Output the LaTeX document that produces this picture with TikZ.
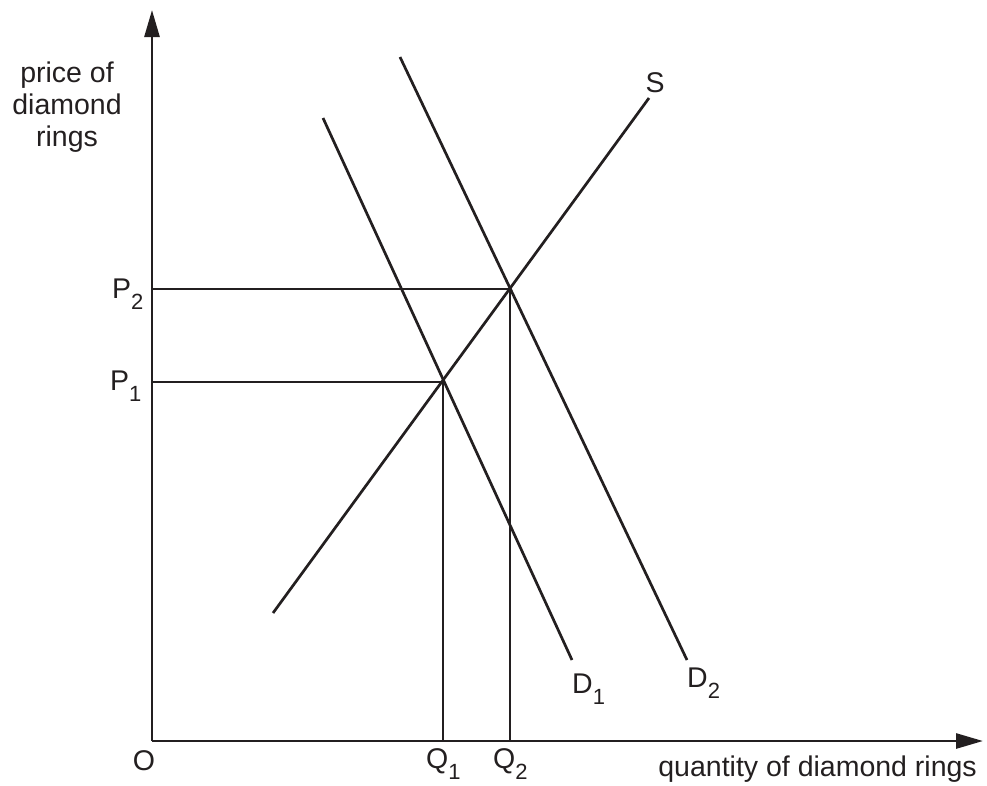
\documentclass[tikz,border=0pt]{standalone}
\usepackage{fontspec}
\setmainfont{Liberation Sans}
\usetikzlibrary{arrows.meta}
\definecolor{ink}{HTML}{231F20}
\newcommand\lowsub[1]{\raisebox{-11pt}{\fontsize{22}{22}\selectfont #1}}
\begin{document}
\begin{tikzpicture}[x=1pt,y=-1pt,
  axis/.style={draw=ink,line width=2.7pt,-{Triangle[length=27pt,width=15pt]}},
  curve/.style={draw=ink,line width=2.7pt},
  guide/.style={draw=ink,line width=2.7pt},
  lbl/.style={inner sep=0pt,text=ink,font=\fontsize{28.5}{32}\selectfont}]
\useasboundingbox (0,0) rectangle (987,785);
% key points
\coordinate (O) at (152,741);
\coordinate (ytop) at (152,10);
\coordinate (xend) at (983,741);
\coordinate (Sa) at (273,613);
\coordinate (Sb) at (649,98);
\coordinate (D1a) at (323,118);
\coordinate (D1b) at (572,660);
\coordinate (D2a) at (400,57);
\coordinate (D2b) at (687,660);
\coordinate (E1) at (443,382);
\coordinate (E2) at (510,289);
\coordinate (P1) at (152,382);
\coordinate (P2) at (152,289);
\coordinate (Q1) at (443,741);
\coordinate (Q2) at (510,741);
% guides
\draw[guide] (P2) -- (E2) -- (Q2);
\draw[guide] (P1) -- (E1) -- (Q1);
% curves
\draw[curve] (Sa) -- (Sb);
\draw[curve] (D1a) -- (D1b);
\draw[curve] (D2a) -- (D2b);
% axes
\draw[axis] (O) -- (ytop);
\draw[axis] (O) -- (xend);
% labels
\node[lbl,align=center] (ylab) at (67,107) {price of\\diamond\\rings};
\node[lbl,anchor=base west] (p2lab) at (112,298) {P\lowsub{2}};
\node[lbl,anchor=base west] (p1lab) at (110,390) {P\lowsub{1}};
\node[lbl,anchor=base] (olab) at (144,770) {O};
\node[lbl,anchor=base west] (q1lab) at (426,768) {Q\lowsub{1}};
\node[lbl,anchor=base west] (q2lab) at (493,768) {Q\lowsub{2}};
\node[lbl,anchor=base west] (d1lab) at (572,693) {D\lowsub{1}};
\node[lbl,anchor=base west] (d2lab) at (687,687) {D\lowsub{2}};
\node[lbl,anchor=base] (slab) at (655,92) {S};
\node[lbl,anchor=base east] (xlab) at (977,776) {quantity of diamond rings};
\end{tikzpicture}
\end{document}
